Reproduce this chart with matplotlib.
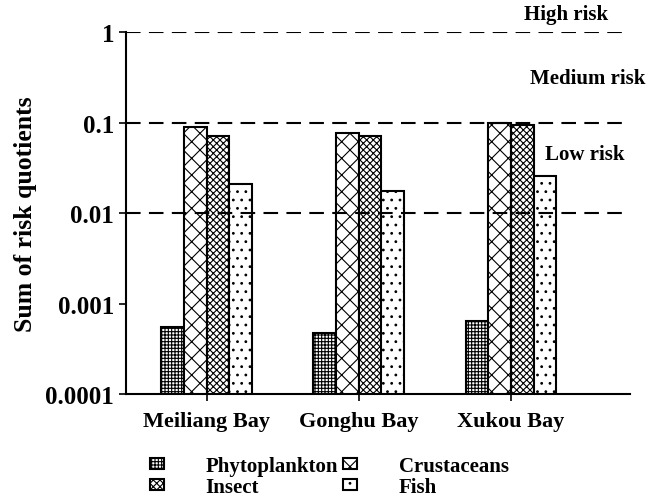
import matplotlib
matplotlib.use("Agg")
import matplotlib.pyplot as plt
import numpy as np

categories = ["Meiliang Bay", "Gonghu Bay", "Xukou Bay"]
series_names = ["Phytoplankton", "Crustaceans", "Insect", "Fish"]
phytoplankton = [0.00055, 0.00047, 0.00064]
crustaceans = [0.090, 0.076, 0.100]
insect = [0.071, 0.071, 0.093]
fish = [0.021, 0.0175, 0.026]
y_ticks = [0.0001, 0.001, 0.01, 0.1, 1]
y_tick_labels = ["0.0001", "0.001", "0.01", "0.1", "1"]
thresholds = [0.01, 0.1, 1]
risk_labels = ["High risk", "Medium risk", "Low risk"]

plt.rcParams['font.family'] = ['Liberation Serif', 'DejaVu Serif']
plt.rcParams['font.weight'] = 'bold'
plt.rcParams['hatch.linewidth'] = 0.8

fig = plt.figure(figsize=(6.52, 5.02), dpi=100)
ax = fig.add_axes([0.193, 0.213, 0.773, 0.721])

values = [phytoplankton, crustaceans, insect, fish]
hatches = ['+++++', 'xx', 'xxxxx', '..']
x = np.arange(len(categories))
w = 0.149
bars = []
for i, (vals, h) in enumerate(zip(values, hatches)):
    b = ax.bar(x + (i - 1.5) * w, vals, width=w, color='white',
               edgecolor='black', linewidth=1.5, hatch=h, zorder=2)
    bars.append(b)

for t in thresholds:
    ax.axhline(t, color='black', linestyle=(0, (7, 4)), linewidth=1.5, zorder=3)

ax.set_yscale('log')
ax.set_ylim(1e-4, 1)
ax.set_xlim(-0.53, 2.78)
ax.set_yticks(y_ticks)
ax.set_yticklabels(y_tick_labels, fontsize=18, fontweight='bold')
ax.yaxis.set_minor_locator(matplotlib.ticker.NullLocator())
ax.set_xticks(x)
ax.set_xticklabels(categories, fontsize=16, fontweight='bold')
ax.tick_params(axis='both', direction='out', length=5, width=1.2)
ax.tick_params(axis='x', pad=7)
for s in ['top', 'right']:
    ax.spines[s].set_visible(False)
for s in ['left', 'bottom']:
    ax.spines[s].set_linewidth(1.5)
ax.set_ylabel("Sum of risk quotients", fontsize=18.5, fontweight='bold', labelpad=6)

tr = ax.get_yaxis_transform()
ax.text(0.873, 1.58, risk_labels[0], transform=tr, ha='center', va='center',
        fontsize=15, fontweight='bold', clip_on=False)
ax.text(0.917, 0.31, risk_labels[1], transform=tr, ha='center', va='center',
        fontsize=15, fontweight='bold')
ax.text(0.911, 0.045, risk_labels[2], transform=tr, ha='center', va='center',
        fontsize=15, fontweight='bold')

handles = [bars[0], bars[2], bars[1], bars[3]]
labels = [series_names[0], series_names[2], series_names[1], series_names[3]]
fig.legend(handles, labels, loc='lower left', bbox_to_anchor=(0.202, -0.03), ncol=2,
           frameon=False, fontsize=15, handlelength=0.65, handleheight=0.45,
           handletextpad=2.0, columnspacing=0.25, labelspacing=0.05)

fig.savefig("out.png", dpi=100)
